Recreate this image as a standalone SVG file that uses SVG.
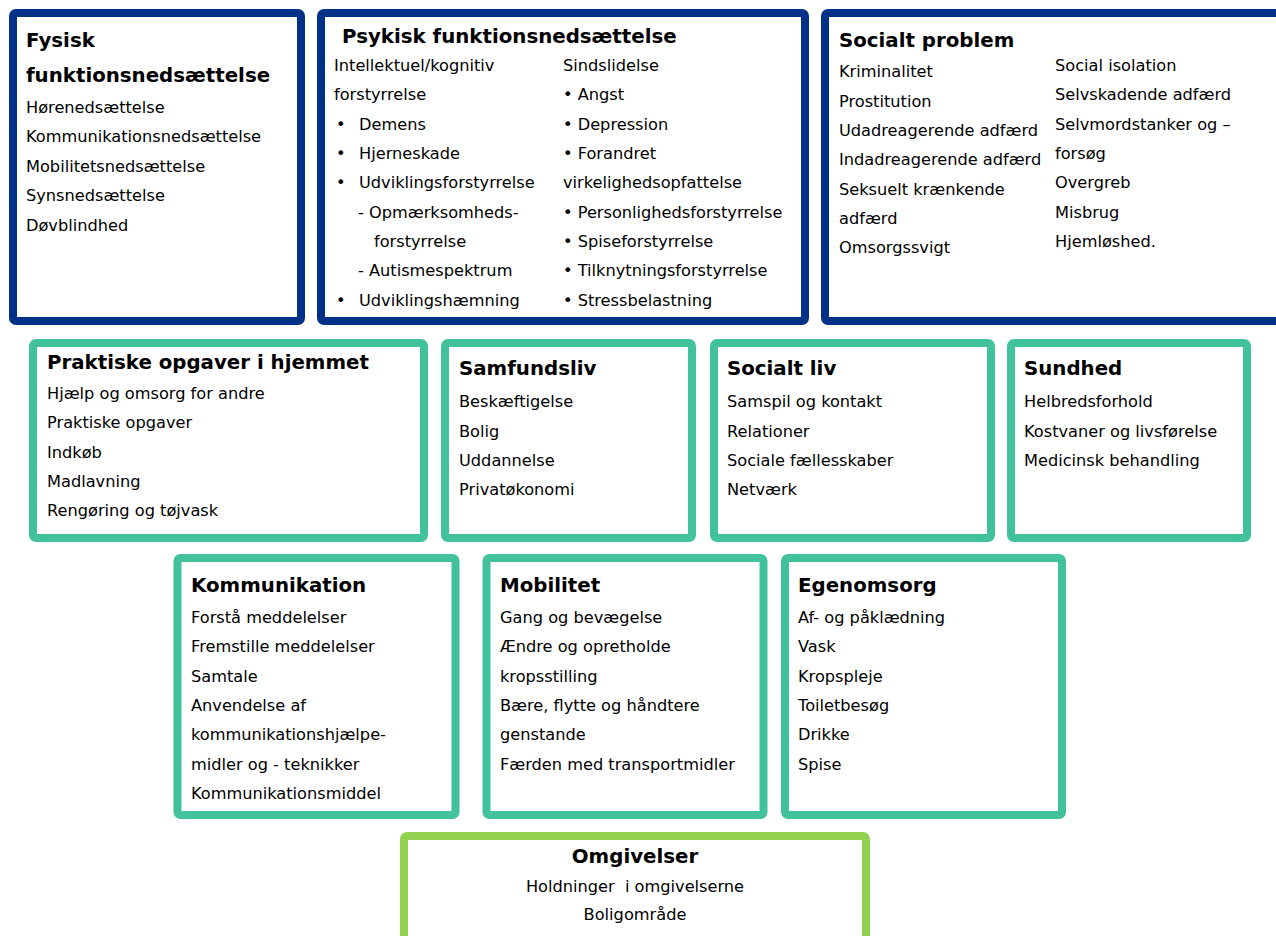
<svg xmlns="http://www.w3.org/2000/svg" width="1276" height="936" viewBox="0 0 1276 936">
<style>
.bg{fill:#ffffff}
.b{fill:#ffffff;stroke:#003189;stroke-width:8}
.g{fill:#ffffff;stroke:#41C29A;stroke-width:8}
.o{fill:#ffffff;stroke:#92D050;stroke-width:8}
text{font-family:"DejaVu Sans","Verdana",sans-serif;fill:#000000}
.t{font-size:19.8px;font-weight:bold}
.x{font-size:16.2px}
.c{text-anchor:middle}
</style>
<rect class="bg" x="0" y="0" width="1276" height="936"/>
<g id="fysisk">
<rect class="b" x="13" y="13" width="288" height="308" rx="3"/>
<text class="t" x="26" y="47">Fysisk</text>
<text class="t" x="26" y="82">funktionsnedsættelse</text>
<text class="x" x="26" y="113">Hørenedsættelse</text>
<text class="x" x="26" y="142">Kommunikationsnedsættelse</text>
<text class="x" x="26" y="172">Mobilitetsnedsættelse</text>
<text class="x" x="26" y="201">Synsnedsættelse</text>
<text class="x" x="26" y="231">Døvblindhed</text>
</g>
<g id="psykisk">
<rect class="b" x="321" y="13" width="484" height="308" rx="3"/>
<text class="t" x="342" y="43">Psykisk funktionsnedsættelse</text>
<text class="x" x="334" y="71">Intellektuel/kognitiv</text>
<text class="x" x="334" y="100">forstyrrelse</text>
<text class="x" x="336" y="130">•</text><text class="x" x="359" y="130">Demens</text>
<text class="x" x="336" y="159">•</text><text class="x" x="359" y="159">Hjerneskade</text>
<text class="x" x="336" y="188">•</text><text class="x" x="359" y="188">Udviklingsforstyrrelse</text>
<text class="x" x="358" y="218">- Opmærksomheds-</text>
<text class="x" x="374" y="247">forstyrrelse</text>
<text class="x" x="358" y="276">- Autismespektrum</text>
<text class="x" x="336" y="306">•</text><text class="x" x="359" y="306">Udviklingshæmning</text>
<text class="x" x="563" y="71">Sindslidelse</text>
<text class="x" x="563" y="100">• Angst</text>
<text class="x" x="563" y="130">• Depression</text>
<text class="x" x="563" y="159">• Forandret</text>
<text class="x" x="563" y="188">virkelighedsopfattelse</text>
<text class="x" x="563" y="218">• Personlighedsforstyrrelse</text>
<text class="x" x="563" y="247">• Spiseforstyrrelse</text>
<text class="x" x="563" y="276">• Tilknytningsforstyrrelse</text>
<text class="x" x="563" y="306">• Stressbelastning</text>
</g>
<g id="socialt-problem">
<rect class="b" x="825" y="13" width="470" height="308" rx="3"/>
<text class="t" x="839" y="47">Socialt problem</text>
<text class="x" x="839" y="77">Kriminalitet</text>
<text class="x" x="839" y="107">Prostitution</text>
<text class="x" x="839" y="136">Udadreagerende adfærd</text>
<text class="x" x="839" y="165">Indadreagerende adfærd</text>
<text class="x" x="839" y="195">Seksuelt krænkende</text>
<text class="x" x="839" y="224">adfærd</text>
<text class="x" x="839" y="253">Omsorgssvigt</text>
<text class="x" x="1055" y="71">Social isolation</text>
<text class="x" x="1055" y="100">Selvskadende adfærd</text>
<text class="x" x="1055" y="130">Selvmordstanker og –</text>
<text class="x" x="1055" y="159">forsøg</text>
<text class="x" x="1055" y="188">Overgreb</text>
<text class="x" x="1055" y="218">Misbrug</text>
<text class="x" x="1055" y="247">Hjemløshed.</text>
</g>
<g id="praktiske">
<rect class="g" x="33" y="343" width="391" height="195" rx="3"/>
<text class="t" x="47" y="369">Praktiske opgaver i hjemmet</text>
<text class="x" x="47" y="399">Hjælp og omsorg for andre</text>
<text class="x" x="47" y="428">Praktiske opgaver</text>
<text class="x" x="47" y="458">Indkøb</text>
<text class="x" x="47" y="487">Madlavning</text>
<text class="x" x="47" y="516">Rengøring og tøjvask</text>
</g>
<g id="samfundsliv">
<rect class="g" x="445" y="343" width="247" height="195" rx="3"/>
<text class="t" x="459" y="375">Samfundsliv</text>
<text class="x" x="459" y="407">Beskæftigelse</text>
<text class="x" x="459" y="437">Bolig</text>
<text class="x" x="459" y="466">Uddannelse</text>
<text class="x" x="459" y="495">Privatøkonomi</text>
</g>
<g id="socialt-liv">
<rect class="g" x="714" y="343" width="277" height="195" rx="3"/>
<text class="t" x="727" y="375">Socialt liv</text>
<text class="x" x="727" y="407">Samspil og kontakt</text>
<text class="x" x="727" y="437">Relationer</text>
<text class="x" x="727" y="466">Sociale fællesskaber</text>
<text class="x" x="727" y="495">Netværk</text>
</g>
<g id="sundhed">
<rect class="g" x="1011" y="343" width="236" height="195" rx="3"/>
<text class="t" x="1024" y="375">Sundhed</text>
<text class="x" x="1024" y="407">Helbredsforhold</text>
<text class="x" x="1024" y="437">Kostvaner og livsførelse</text>
<text class="x" x="1024" y="466">Medicinsk behandling</text>
</g>
<g id="kommunikation">
<rect class="g" x="177.5" y="558" width="278" height="257" rx="3"/>
<text class="t" x="191" y="592">Kommunikation</text>
<text class="x" x="191" y="623">Forstå meddelelser</text>
<text class="x" x="191" y="652">Fremstille meddelelser</text>
<text class="x" x="191" y="682">Samtale</text>
<text class="x" x="191" y="711">Anvendelse af</text>
<text class="x" x="191" y="740">kommunikationshjælpe-</text>
<text class="x" x="191" y="770">midler og - teknikker</text>
<text class="x" x="191" y="799">Kommunikationsmiddel</text>
</g>
<g id="mobilitet">
<rect class="g" x="486.5" y="558" width="277" height="257" rx="3"/>
<text class="t" x="500" y="592">Mobilitet</text>
<text class="x" x="500" y="623">Gang og bevægelse</text>
<text class="x" x="500" y="652">Ændre og opretholde</text>
<text class="x" x="500" y="682">kropsstilling</text>
<text class="x" x="500" y="711">Bære, flytte og håndtere</text>
<text class="x" x="500" y="740">genstande</text>
<text class="x" x="500" y="770">Færden med transportmidler</text>
</g>
<g id="egenomsorg">
<rect class="g" x="785" y="558" width="277" height="257" rx="3"/>
<text class="t" x="798" y="592">Egenomsorg</text>
<text class="x" x="798" y="623">Af- og påklædning</text>
<text class="x" x="798" y="652">Vask</text>
<text class="x" x="798" y="682">Kropspleje</text>
<text class="x" x="798" y="711">Toiletbesøg</text>
<text class="x" x="798" y="740">Drikke</text>
<text class="x" x="798" y="770">Spise</text>
</g>
<g id="omgivelser">
<rect class="o" x="404" y="836" width="462" height="120" rx="3"/>
<text class="t c" x="635" y="863">Omgivelser</text>
<text class="x c" x="635" y="892" xml:space="preserve" style="white-space:pre">Holdninger  i omgivelserne</text>
<text class="x c" x="635" y="920">Boligområde</text>
</g>
<g id="connectors"></g>
</svg>
